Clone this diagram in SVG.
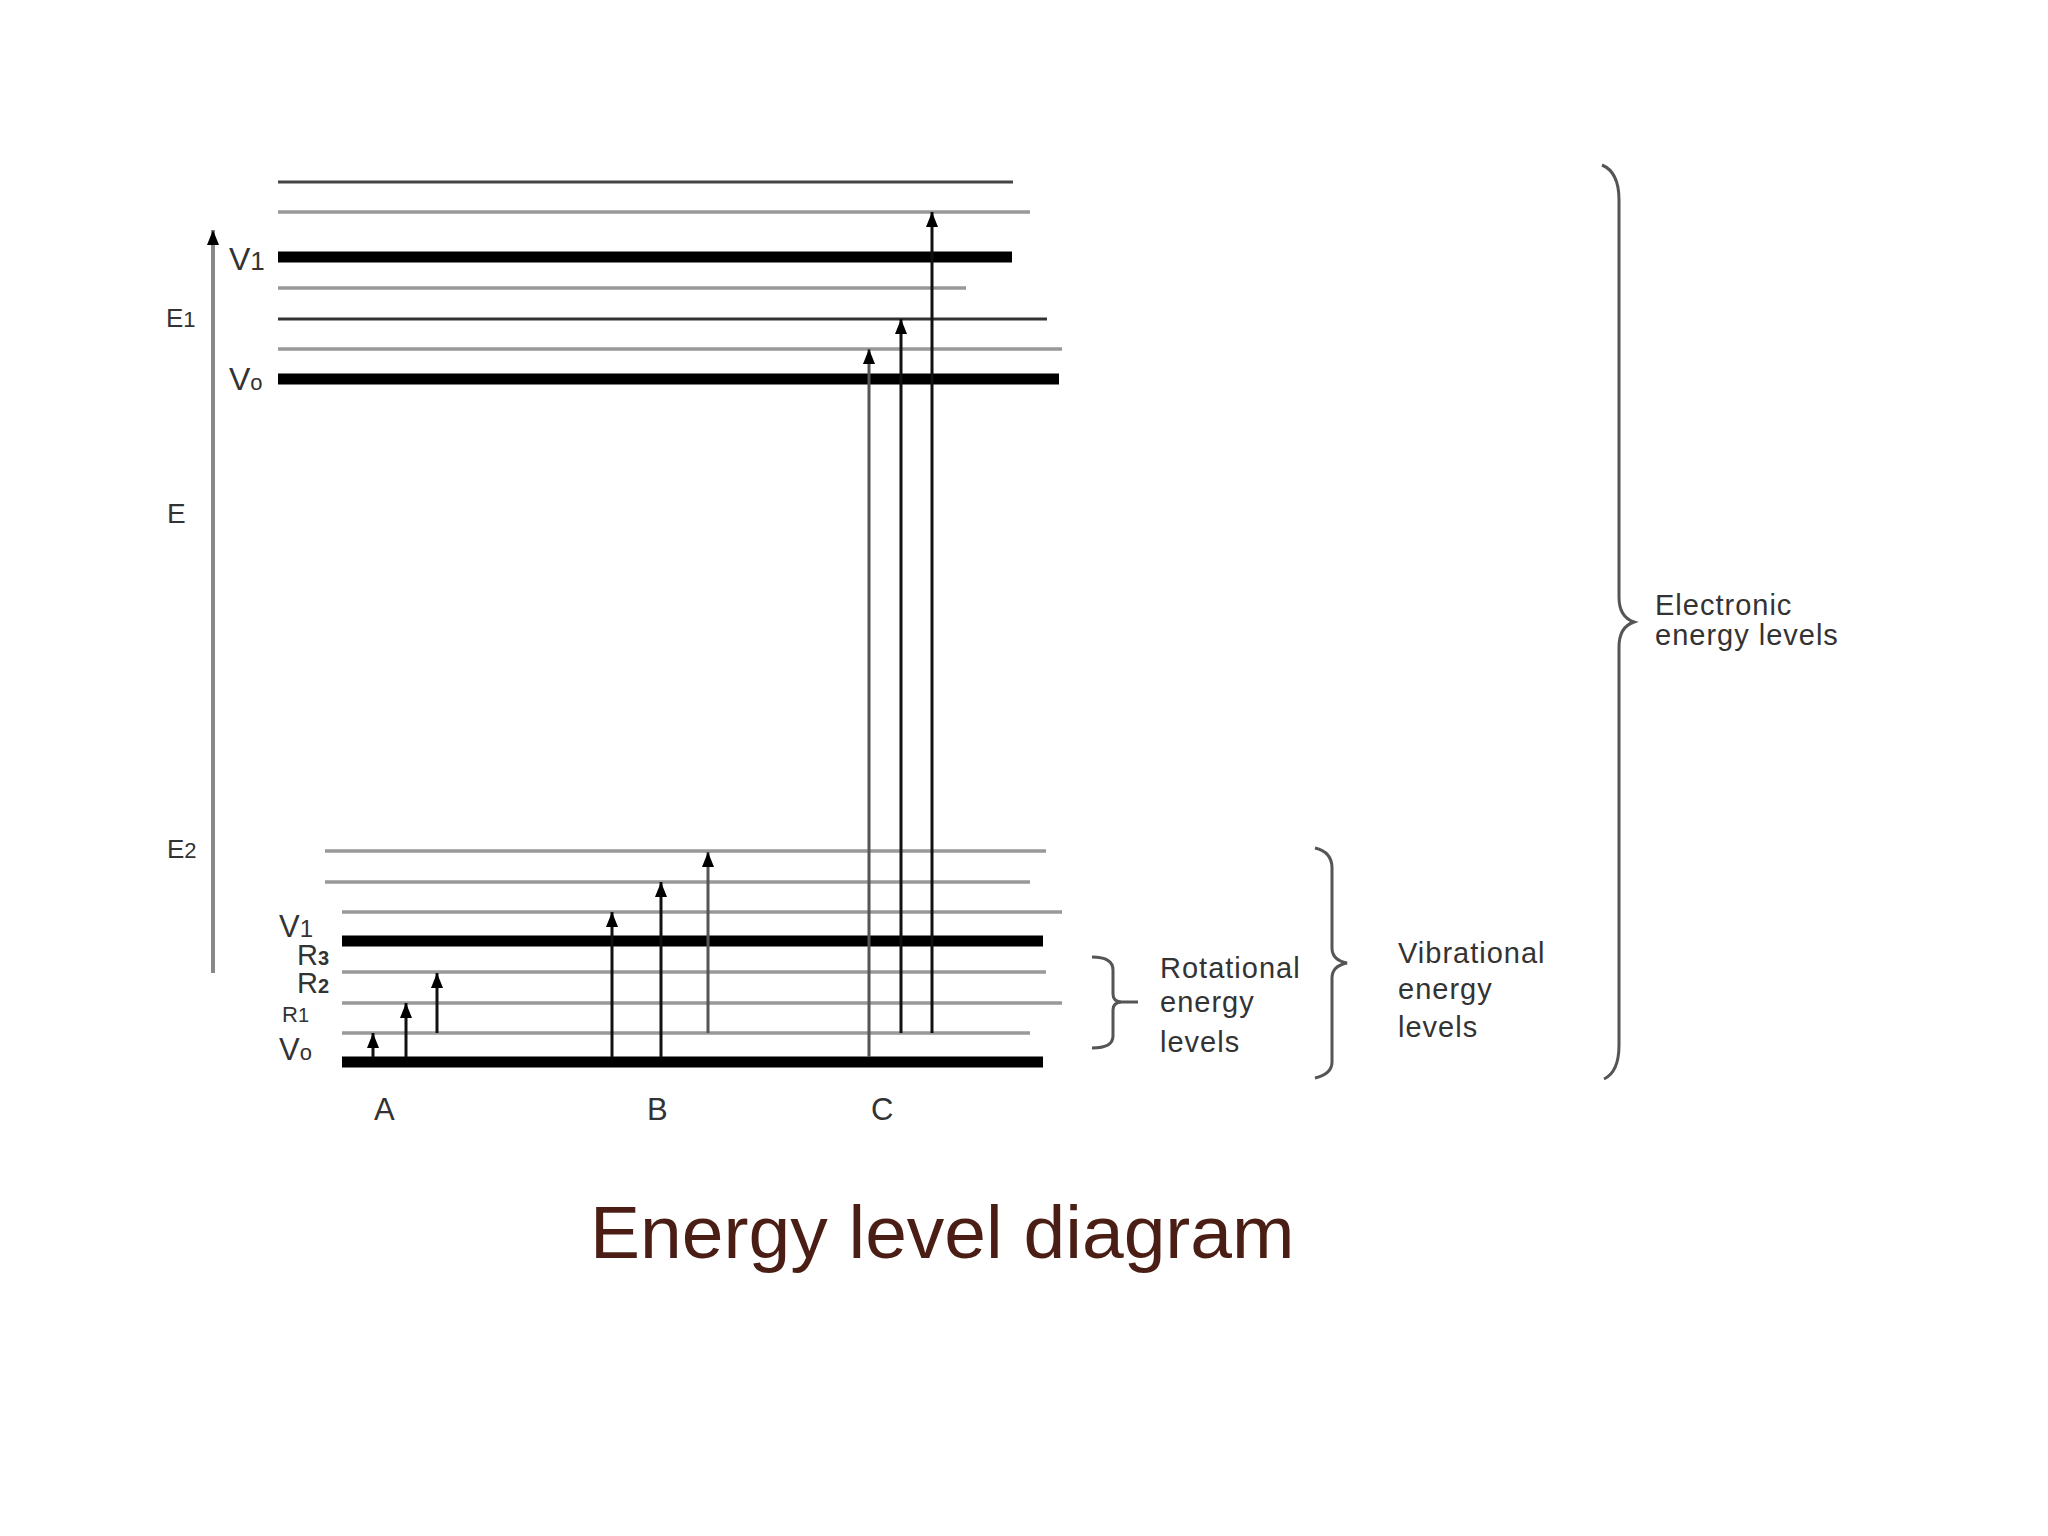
<svg xmlns="http://www.w3.org/2000/svg" width="2048" height="1536" viewBox="0 0 2048 1536">
<style>
.thin{stroke:#999;stroke-width:3.5;fill:none}
.dark{stroke:#333;stroke-width:3;fill:none}
.thick{stroke:#000;stroke-width:11;fill:none}
.arr{stroke:#111;stroke-width:3;fill:none;marker-end:url(#ah)}
.arrg{stroke:#555;stroke-width:3;fill:none;marker-end:url(#ah)}
.brace{stroke:#555;stroke-width:3;fill:none}
.lbl{font-family:"Liberation Sans",Arial,sans-serif;fill:#333}
.note{font-family:"Liberation Sans",Arial,sans-serif;fill:#333;font-size:29px;letter-spacing:1px}
</style>
<defs>
<marker id="ah" viewBox="0 -7 15 14" refX="15" refY="0" markerWidth="15" markerHeight="14" markerUnits="userSpaceOnUse" orient="auto">
<path d="M0,-6 L15,0 L0,6 z" fill="#000"/>
</marker>
</defs>
<rect width="2048" height="1536" fill="#fff"/>

<g id="upper-levels">
<line x1="278" y1="182" x2="1013" y2="182" stroke="#444" stroke-width="3"/>
<line class="thin" x1="278" y1="212" x2="1030" y2="212"/>
<line class="thick" x1="278" y1="257" x2="1012" y2="257"/>
<line class="thin" x1="278" y1="288" x2="966" y2="288"/>
<line class="dark" x1="278" y1="319" x2="1047" y2="319" stroke="#111"/>
<line class="thin" x1="278" y1="349" x2="1062" y2="349"/>
<line class="thick" x1="278" y1="379" x2="1059" y2="379"/>
</g>

<g id="lower-levels">
<line class="thin" x1="325" y1="851" x2="1046" y2="851"/>
<line class="thin" x1="325" y1="882" x2="1030" y2="882" stroke="#8a8a8a"/>
<line class="thin" x1="342" y1="912" x2="1062" y2="912"/>
<line class="thick" x1="342" y1="941" x2="1043" y2="941"/>
<line class="thin" x1="342" y1="972" x2="1046" y2="972"/>
<line class="thin" x1="342" y1="1003" x2="1062" y2="1003"/>
<line class="thin" x1="342" y1="1033" x2="1030" y2="1033" stroke="#666"/>
<line class="thick" x1="342" y1="1062" x2="1043" y2="1062"/>
</g>

<g id="connectors">
<line x1="213" y1="973" x2="213" y2="230" stroke="#888" stroke-width="4" marker-end="url(#ah)"/>
<line class="arr" x1="373" y1="1057" x2="373" y2="1033"/>
<line class="arr" x1="406" y1="1057" x2="406" y2="1003"/>
<line class="arr" x1="437" y1="1033" x2="437" y2="973"/>
<line class="arr" x1="612" y1="1057" x2="612" y2="912"/>
<line class="arr" x1="661" y1="1057" x2="661" y2="882"/>
<line class="arrg" x1="708" y1="1033" x2="708" y2="852"/>
<line class="arrg" x1="869" y1="1057" x2="869" y2="349"/>
<line class="arr" x1="901" y1="1033" x2="901" y2="319"/>
<line class="arr" x1="932" y1="1033" x2="932" y2="212"/>
</g>

<g id="axis-labels">
<text class="lbl" x="166" y="327" font-size="26">E<tspan font-size="22">1</tspan></text>
<text class="lbl" x="167" y="523" font-size="28">E</text>
<text class="lbl" x="167" y="858" font-size="26">E<tspan font-size="22">2</tspan></text>
</g>

<g id="upper-state-labels">
<text class="lbl" x="229" y="270" font-size="32">V<tspan font-size="26">1</tspan></text>
<text class="lbl" x="229" y="390" font-size="32">V<tspan font-size="22">o</tspan></text>
</g>

<g id="lower-state-labels">
<text class="lbl" x="279" y="937" font-size="31">V<tspan font-size="24">1</tspan></text>
<text class="lbl" x="297" y="965" font-size="29">R<tspan font-size="20" font-weight="bold">3</tspan></text>
<text class="lbl" x="297" y="993" font-size="29">R<tspan font-size="20" font-weight="bold">2</tspan></text>
<text class="lbl" x="282" y="1022" font-size="22">R<tspan font-size="20">1</tspan></text>
<text class="lbl" x="279" y="1060" font-size="31">V<tspan font-size="22">o</tspan></text>
</g>

<g id="transition-labels">
<text class="lbl" x="374" y="1120" font-size="31">A</text>
<text class="lbl" x="647" y="1120" font-size="31">B</text>
<text class="lbl" x="871" y="1120" font-size="31">C</text>
</g>

<g id="rotational-brace">
<path class="brace" d="M1092,957 Q1113,957 1113,970 L1113,994 Q1113,1002 1122,1002 L1138,1002 M1122,1002 Q1113,1002 1113,1010 L1113,1036 Q1113,1048 1092,1048"/>
<text class="note" x="1160" y="978">Rotational</text>
<text class="note" x="1160" y="1012">energy</text>
<text class="note" x="1160" y="1052">levels</text>
</g>

<g id="vibrational-brace">
<path class="brace" d="M1315,848 Q1332,852 1332,868 L1332,948 Q1332,960 1347,963 Q1332,966 1332,978 L1332,1062 Q1332,1074 1315,1078"/>
<text class="note" x="1398" y="963">Vibrational</text>
<text class="note" x="1398" y="999">energy</text>
<text class="note" x="1398" y="1037">levels</text>
</g>

<g id="electronic-brace">
<path class="brace" d="M1602,165 Q1619,172 1619,200 L1619,597 Q1619,617 1634,622 Q1619,627 1619,647 L1619,1045 Q1619,1072 1604,1079"/>
<text class="note" x="1655" y="615" font-size="30">Electronic</text>
<text class="note" x="1655" y="645" font-size="30">energy levels</text>
</g>

<g id="title">
<text x="590" y="1258" font-family="'Liberation Sans',Arial,sans-serif" font-size="75" fill="#4a1e14">Energy level diagram</text>
</g>
</svg>
